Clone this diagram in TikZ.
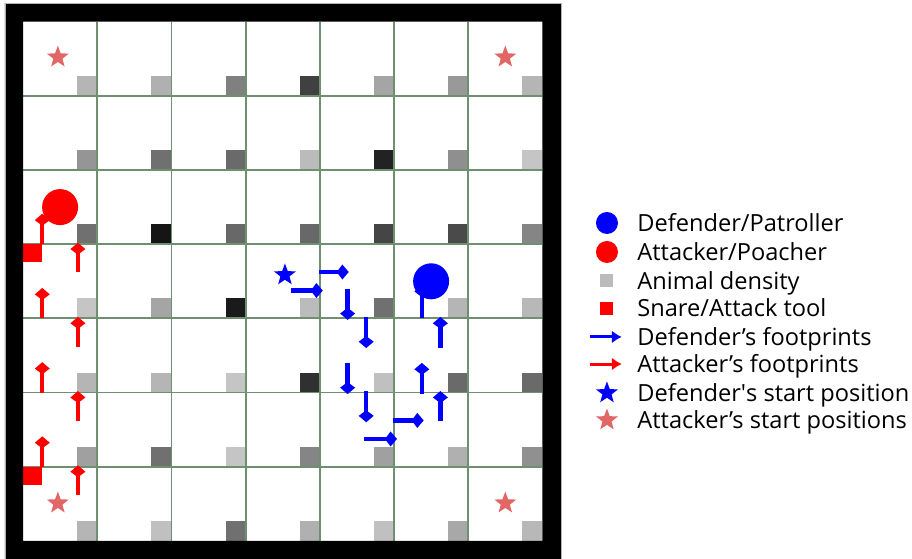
\documentclass[tikz,border=0pt]{standalone}
\usepackage{fontspec}
\setmainfont{Open Sans}
\usetikzlibrary{arrows.meta,shapes.geometric}

\definecolor{gridgreen}{RGB}{112,142,112}
\definecolor{poacherstar}{RGB}{225,102,102}
\definecolor{densgray}{RGB}{187,187,187}

\begin{document}
\begin{tikzpicture}[x=37.1pt, y=37.1pt,
    footR/.style={red, line width=2.2pt, -{Kite[length=6pt, width=7.5pt, inset=2.8pt]}},
    footB/.style={footR, blue},
    agent/.style={circle, inner sep=0pt, minimum size=18pt},
    startpos/.style={star, star points=5, star point ratio=2.4, inner sep=0pt, minimum size=11.5pt},
    legtext/.style={anchor=base west, inner sep=0pt, font=\fontsize{11.8}{14}\selectfont},
    legarrow/.style={line width=1.5pt, -{Latex[length=5pt, width=6.5pt]}}]
    % 1. Vùng hiển thị
    \useasboundingbox (-0.31,-0.2426) rectangle (11.981,7.291);

    % 2. Mật độ động vật (góc dưới phải mỗi ô)
    \foreach \row [count=\j] in {{181,176,128,64,165,153,181},
                                 {149,112,106,187,34,143,197},
                                 {112,21,104,104,69,74,133},
                                 {197,165,26,187,112,181,184},
                                 {181,181,197,48,192,106,106},
                                 {160,112,197,133,160,176,144},
                                 {181,192,112,176,192,168,184}} {
        \foreach \v [count=\i from 0] in \row
            \fill[fill={rgb,255:red,\v;green,\v;blue,\v}] (\i+0.73,7-\j) rectangle (\i+1,7.27-\j);
    }

    % 3. Lưới 7x7
    \foreach \k in {1,...,6} {
        \draw[gridgreen, line width=0.9pt] (\k,0) -- (\k,7);
        \draw[gridgreen, line width=0.9pt] (0,\k) -- (7,\k);
    }

    % 4. Vị trí xuất phát
    \node[startpos, fill=poacherstar] (atkStartA) at (0.47,6.52) {};
    \node[startpos, fill=poacherstar] (atkStartB) at (6.50,6.52) {};
    \node[startpos, fill=poacherstar] (atkStartC) at (0.47,0.51) {};
    \node[startpos, fill=poacherstar] (atkStartD) at (6.50,0.51) {};
    \node[startpos, fill=blue] (defStart) at (3.53,3.585) {};

    % 5. Bẫy
    \fill[red] (0,3.76) rectangle (0.26,4);
    \fill[red] (0,0.755) rectangle (0.26,1);

    % 6. Dấu chân kẻ săn trộm
    \foreach \y in {1,2,3,4} {
        \draw[footR] (0.26,\y) -- (0.26,\y+0.41);
        \draw[footR] (0.74,\y-0.38) -- (0.74,\y+0.02);
    }

    % 7. Dấu chân người tuần tra
    \draw[footB] (3.61,3.375) -- (4.04,3.375);
    \draw[footB] (3.99,3.625) -- (4.39,3.625);
    \draw[footB] (4.375,3.40) -- (4.375,2.98);
    \draw[footB] (4.625,3.02) -- (4.625,2.60);
    \draw[footB] (4.375,2.40) -- (4.375,1.98);
    \draw[footB] (4.625,2.02) -- (4.625,1.60);
    \draw[footB] (4.60,1.375) -- (5.04,1.375);
    \draw[footB] (4.99,1.625) -- (5.40,1.625);
    \draw[footB] (5.625,1.62) -- (5.625,2.02);
    \draw[footB] (5.375,1.98) -- (5.375,2.40);
    \draw[footB] (5.625,2.60) -- (5.625,3.02);
    \draw[footB] (5.375,3.00) -- (5.375,3.45);

    % 8. Người tuần tra và kẻ săn trộm
    \node[agent, fill=blue] (defender) at (5.5,3.5) {};
    \node[agent, fill=red] (poacher) at (0.5,4.5) {};

    % 9. Khung đen
    \fill[black, even odd rule] (-0.243,-0.243) rectangle (7.25,7.25) (0,0) rectangle (7,7);
    \draw[black!30, line width=0.4pt] (-0.243,-0.243) rectangle (7.25,7.25);

    % 10. Chú thích
    \node[agent, minimum size=11pt, fill=blue] (lgDef) at (7.87,4.286) {};
    \node[legtext] (lgDefTxt) at (8.275,4.173) {Defender/Patroller};
    \node[agent, minimum size=11pt, fill=red] (lgAtk) at (7.87,3.895) {};
    \node[legtext] (lgAtkTxt) at (8.275,3.782) {Attacker/Poacher};
    \node[rectangle, inner sep=0pt, minimum size=6.5pt, fill=densgray] (lgDens) at (7.87,3.504) {};
    \node[legtext] (lgDensTxt) at (8.275,3.391) {Animal density};
    \node[rectangle, inner sep=0pt, minimum size=6.5pt, fill=red] (lgSnare) at (7.87,3.14) {};
    \node[legtext] (lgSnareTxt) at (8.275,3.027) {Snare/Attack tool};
    \draw[legarrow, blue] (7.64,2.75) -- (8.07,2.75);
    \node[legtext] (lgDefFootTxt) at (8.275,2.637) {Defender’s footprints};
    \draw[legarrow, red] (7.64,2.385) -- (8.07,2.385);
    \node[legtext] (lgAtkFootTxt) at (8.275,2.272) {Attacker’s footprints};
    \node[startpos, fill=blue] (lgDefStart) at (7.87,1.995) {};
    \node[legtext] (lgDefStartTxt) at (8.275,1.882) {Defender\textquotesingle s start position};
    \node[startpos, fill=poacherstar] (lgAtkStart) at (7.87,1.63) {};
    \node[legtext] (lgAtkStartTxt) at (8.275,1.517) {Attacker’s start positions};
\end{tikzpicture}
\end{document}
